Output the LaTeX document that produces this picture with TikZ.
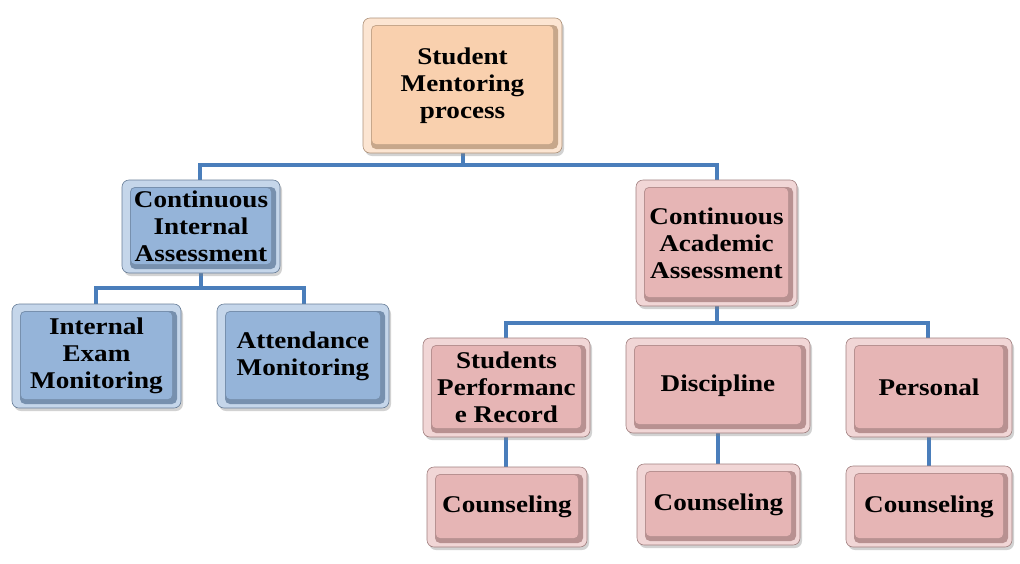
\documentclass[tikz,border=0pt]{standalone}
\usepackage{fontspec}
\setmainfont{Liberation Serif}[FakeStretch=1.13]
\usetikzlibrary{shadows}
\definecolor{peach}{HTML}{F9D0AE}
\definecolor{bluebox}{HTML}{95B4D9}
\definecolor{pinkbox}{HTML}{E6B5B5}
\definecolor{conn}{HTML}{4A7EBB}
\tikzset{
  box/.style n args={2}{rounded corners=7pt, minimum width=#1, align=center, inner sep=0pt,
    font=\fontsize{24}{27}\selectfont\bfseries,
    fill=#2!55!white, draw=#2!70!black, line width=0.6pt,
    drop shadow={shadow xshift=2pt, shadow yshift=-3pt, opacity=0.35, fill=gray},
    path picture={
      \fill[#2!80!black, rounded corners=5pt]
        ([shift={(8pt,-7pt)}]path picture bounding box.north west) rectangle
        ([shift={(-4pt,4pt)}]path picture bounding box.south east);
      \fill[#2, rounded corners=4pt]
        ([shift={(9pt,-8pt)}]path picture bounding box.north west) rectangle
        ([shift={(-9pt,9pt)}]path picture bounding box.south east);
    }},
  topbox/.style={box={#1}{peach}},
  bluestyle/.style={box={#1}{bluebox}},
  pinkstyle/.style={box={#1}{pinkbox}},
  link/.style={draw=conn, line width=4pt},
}
\begin{document}
\begin{tikzpicture}[x=1pt,y=-1pt]
\useasboundingbox (0,0) rectangle (1020,563);
\fill[white] (0,0) rectangle (1020,563);
% connectors
\draw[link] (462.5,153) -- ++(0,12) coordinate (j1);
\draw[link] (200,180) |- (j1) -| (717,180);
\draw[link] (201,273) -- ++(0,15) coordinate (j2);
\draw[link] (96,304) |- (j2) -| (304,304);
\draw[link] (717,306) -- ++(0,17) coordinate (j3);
\draw[link] (506,338) |- (j3) -| (928,338);
\draw[link] (506,437) -- (506,467);
\draw[link] (718,433) -- (718,464);
\draw[link] (929,437) -- (929,466);
% nodes
\node[topbox=199pt, minimum height=135pt] (top) at (462.5,85.5) {Student\\Mentoring\\process};
\node[bluestyle=158pt, minimum height=93pt] (cia) at (201,226.5) {Continuous\\Internal\\Assessment};
\node[bluestyle=169pt, minimum height=104pt] (iem) at (96.5,356) {Internal\\Exam\\Monitoring};
\node[bluestyle=172pt, minimum height=104pt] (att) at (303,356) {Attendance\\Monitoring};
\node[pinkstyle=161pt, minimum height=126pt] (caa) at (716.5,243) {Continuous\\Academic\\Assessment};
\node[pinkstyle=167pt, minimum height=99pt] (spr) at (506.5,387.5) {Students\\Performanc\\e Record};
\node[pinkstyle=184pt, minimum height=95pt] (dis) at (718,385.5) {Discipline};
\node[pinkstyle=166pt, minimum height=99pt] (per) at (929,387.5) {Personal};
\node[pinkstyle=160pt, minimum height=80pt] (c1) at (507,507) {Counseling};
\node[pinkstyle=163pt, minimum height=81pt] (c2) at (718.5,504.5) {Counseling};
\node[pinkstyle=166pt, minimum height=81pt] (c3) at (929,506.5) {Counseling};
\end{tikzpicture}
\end{document}
